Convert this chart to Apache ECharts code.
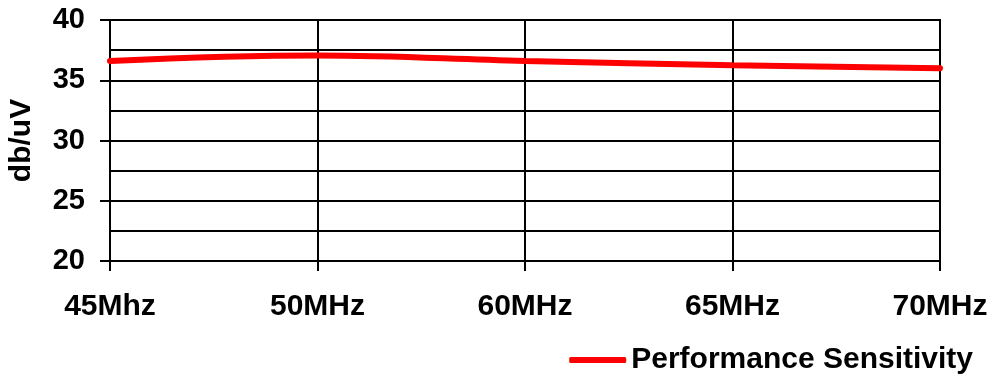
<!DOCTYPE html>
<html><head><meta charset="utf-8">
<script src="https://cdn.jsdelivr.net/npm/echarts@6/dist/echarts.min.js"></script>
<style>html,body{margin:0;padding:0;background:#fff}#c{width:992px;height:377px}</style>
</head><body><div id="c"></div>
<script>
var categories = ['45Mhz', '50MHz', '60MHz', '65MHz', '70MHz'];
var sensitivity = [36.6, 37.05, 36.6, 36.25, 36.0];
var seriesName = 'Performance Sensitivity';
var yName = 'db/uV';

var font = 'Liberation Sans, Arial, sans-serif';
var chart = echarts.init(document.getElementById('c'));
chart.setOption({
  animation: false,
  grid: {left: 110, right: 52, top: 20, bottom: 116, show: true, borderColor: '#000', borderWidth: 2, backgroundColor: '#fff', outerBoundsMode: 'none', containLabel: false},
  legend: {
    data: [seriesName], right: 14, top: 340, itemWidth: 57, itemHeight: 6, itemGap: 6,
    icon: 'roundRect',
    textStyle: {fontFamily: font, fontWeight: 'bold', fontSize: 30, color: '#000'}
  },
  xAxis: {
    type: 'category', data: categories, boundaryGap: false,
    axisLine: {lineStyle: {color: '#000', width: 2}},
    axisTick: {show: true, length: 10, lineStyle: {color: '#000', width: 2}},
    axisLabel: {margin: 31, fontFamily: font, fontWeight: 'bold', fontSize: 30, color: '#000', hideOverlap: false},
    splitLine: {show: true, lineStyle: {color: '#000', width: 2}}
  },
  yAxis: {
    type: 'value', min: 20, max: 40, interval: 5,
    name: yName, nameLocation: 'middle', nameGap: 73, nameRotate: 90,
    nameTextStyle: {fontFamily: font, fontWeight: 'bold', fontSize: 30, color: '#000'},
    axisLine: {show: true, lineStyle: {color: '#000', width: 2}},
    axisTick: {show: true, length: 10, lineStyle: {color: '#000', width: 2}},
    axisLabel: {margin: 25, fontFamily: font, fontWeight: 'bold', fontSize: 29, color: '#000'},
    splitLine: {show: true, lineStyle: {color: '#000', width: 2}},
    minorTick: {show: false, splitNumber: 2},
    minorSplitLine: {show: true, lineStyle: {color: '#000', width: 2}}
  },
  series: [{
    name: seriesName, type: 'line', data: sensitivity, smooth: 0.4,
    symbol: 'none', lineStyle: {color: '#ff0000', width: 6, cap: 'round'},
    itemStyle: {color: '#ff0000'}
  }]
});
</script></body></html>
